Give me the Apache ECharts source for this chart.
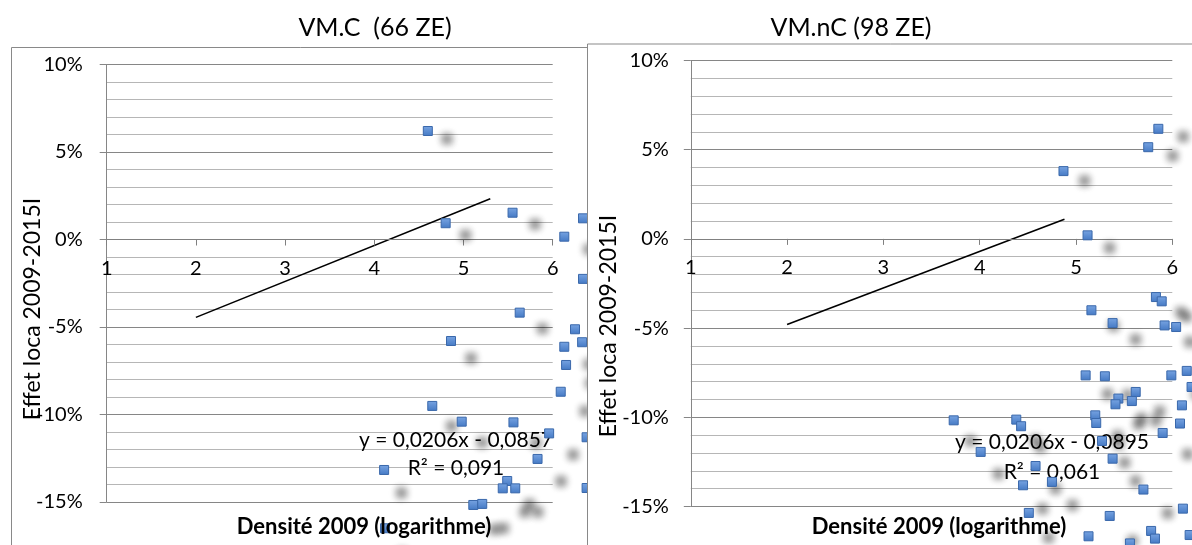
<!DOCTYPE html>
<html><head><meta charset="utf-8">
<script src="https://cdn.jsdelivr.net/npm/echarts@6/dist/echarts.min.js"></script>
<style>
html,body{margin:0;padding:0;background:#fff;width:1192px;height:545px;overflow:hidden;position:relative}
#left{position:absolute;left:0;top:0;width:588px;height:545px}
#right{position:absolute;left:587px;top:0;width:605px;height:545px;background:#fff}
</style></head><body>
<div id="left"></div><div id="right"></div>
<script>
// ---------- data ----------
const titles = ['VM.C  (66 ZE)', 'VM.nC (98 ZE)'];
const xAxisTitle = 'Densité 2009 (logarithme)';
const yAxisTitle = 'Effet loca 2009-2015I';
const xRange = [1, 6];
const yRange = [-15, 10];

const leftX = [4.60,4.80,5.55,6.13,6.34,6.34,5.63,4.86,6.25,6.13,6.33,6.15,6.09,4.65,4.98,5.56,5.96,6.38,5.83,4.11,5.49,5.44,5.58,6.38,5.11,5.21,4.12];
const leftY = [6.20,0.93,1.53,0.16,1.21,-2.25,-4.18,-5.80,-5.13,-6.13,-5.87,-7.17,-8.70,-9.51,-10.41,-10.45,-11.08,-11.30,-12.54,-13.17,-13.80,-14.22,-14.22,-14.20,-15.17,-15.11,-16.50];
const leftTrendX = [2, 5.30];
const leftTrendY = [-4.45, 2.33];
const leftEquation = ['y = 0,0206x - 0,0857', 'R² = 0,091'];

const rightX = [5.855,5.75,4.87,5.12,5.83,5.89,5.16,5.38,5.92,6.04,5.10,5.30,5.99,6.15,6.20,5.62,5.44,5.41,5.58,6.10,5.20,5.21,3.73,4.38,4.43,6.08,5.90,4.01,5.27,5.38,4.58,4.45,4.75,5.70,6.11,4.51,5.35,5.13,5.78,5.82,5.56,6.18];
const rightY = [6.17,5.14,3.80,0.20,-3.26,-3.50,-4.00,-4.72,-4.85,-4.94,-7.65,-7.70,-7.65,-7.40,-8.30,-8.58,-8.95,-9.27,-9.09,-9.33,-9.89,-10.32,-10.17,-10.13,-10.50,-10.35,-10.88,-11.94,-11.33,-12.32,-12.73,-13.81,-13.62,-14.05,-15.12,-15.36,-15.53,-16.67,-16.37,-16.80,-17.07,-16.60];
const rightTrendX = [2, 4.88];
const rightTrendY = [-4.80, 1.10];
const rightEquation = ['y = 0,0206x - 0,0895', 'R² = 0,061'];

// ---------- styling ----------
const FONT = 'Lato';
const GRID_MAJOR = '#868686';
const GRID_MINOR = '#b6b6b6';
const markerColor = {type:'linear',x:0,y:0,x2:0,y2:1,colorStops:[{offset:0,color:'#78a4e2'},{offset:1,color:'#4479c4'}]};

function zip(a,b){return a.map((v,i)=>[v,b[i]]);}

function buildOption(c){
  // x axis crosses the y axis at 0 (as in the original): shift it up from the grid bottom
  const zeroOffset = -c.gh * (0 - yRange[0]) / (yRange[1] - yRange[0]);
  return {
    animation:false,
    textStyle:{fontFamily:FONT},
    grid:{left:c.gl, top:c.gt, width:c.gw, height:c.gh, containLabel:false},
    xAxis:{type:'value', min:xRange[0], max:xRange[1], interval:1, position:'bottom', offset:zeroOffset,
      axisLine:{onZero:false, lineStyle:{color:'#808080', width:1}},
      axisTick:{show:true, length:6, lineStyle:{color:'#808080'}},
      axisLabel:{margin:19, fontSize:20, color:'#000', fontFamily:FONT},
      splitLine:{show:false}, z:3},
    yAxis:{type:'value', min:yRange[0], max:yRange[1], interval:5,
      axisLine:{show:true, onZero:false, lineStyle:{color:'#868686'}},
      axisTick:{show:true, length:7, lineStyle:{color:'#868686'}},
      axisLabel:{formatter:'{value}%', fontSize:20, color:'#000', fontFamily:FONT, margin:c.ylm},
      splitLine:{show:true, lineStyle:{color:GRID_MAJOR, width:1}},
      minorTick:{show:false, splitNumber:5},
      minorSplitLine:{show:true, lineStyle:{color:GRID_MINOR, width:1}}},
    graphic:[
      {type:'polyline', z:0, shape:{points:c.frame}, style:{stroke:'#898989', lineWidth:1, fill:null}},
      {type:'text', z:5, x:c.titleX, y:28, style:{text:c.title, font:'25px '+FONT, fill:'#000', textAlign:'center', textVerticalAlign:'middle'}},
      {type:'text', z:5, x:c.ytX, y:c.ytY, rotation:Math.PI/2, style:{text:yAxisTitle, font:'23px '+FONT, fill:'#000', textAlign:'center', textVerticalAlign:'middle'}},
      {type:'text', z:5, x:c.xtX, y:527, style:{text:xAxisTitle, font:'bold 22px '+FONT, fill:'#000', textAlign:'center', textVerticalAlign:'middle'}},
      {type:'text', z:1, x:c.eqX, y:c.eqY, style:{text:c.eq[0], font:'21px '+FONT, fill:'#000', textAlign:'center', textVerticalAlign:'middle'}},
      {type:'text', z:1, x:c.eqX, y:c.eqY2, style:{text:c.eq[1], font:'21px '+FONT, fill:'#000', textAlign:'center', textVerticalAlign:'middle'}}
    ],
    series:[
      {type:'line', id:'trend', data:zip(c.tx,c.ty), showSymbol:false, symbol:'none', clip:false, z:2,
        lineStyle:{color:'#000', width:1.6}},
      {type:'scatter', id:'pts', data:zip(c.px,c.py), symbol:'rect', symbolSize:9, clip:false, z:3,
        itemStyle:{color:markerColor, borderColor:'#3a68ab', borderWidth:1, opacity:1,
          shadowBlur:7, shadowColor:'rgba(0,0,0,0.45)', shadowOffsetX:20, shadowOffsetY:10}}
    ]
  };
}

function render(el, c){
  const chart = echarts.init(el, null, {renderer:'canvas'});
  chart.setOption(buildOption(c));
  const pts = zip(c.px,c.py);
  const data = pts.map(p=>{
    const q = chart.convertToPixel({seriesIndex:1}, p);
    return {value:p, itemStyle:{shadowOffsetX:0.04*q[0]+2, shadowOffsetY:0.044*q[1]+2.2}};
  });
  chart.setOption({series:[{id:'pts', data}]});
  return chart;
}

render(document.getElementById('left'), {
  gl:106.7, gt:64.5, gw:446, gh:437.5, ylm:24,
  frame:[[11.5,700],[11.5,47.5],[700,47.5]],
  title:titles[0], titleX:375, ytX:33, ytY:309, xtX:364, eqX:456, eqY:440, eqY2:468,
  eq:leftEquation, tx:leftTrendX, ty:leftTrendY, px:leftX, py:leftY
});
render(document.getElementById('right'), {
  gl:103.8, gt:60.5, gw:481.5, gh:446, ylm:22,
  frame:[[0.5,700],[0.5,44],[800,44]],
  title:titles[1], titleX:264, ytX:22, ytY:326, xtX:352, eqX:465, eqY:442, eqY2:472,
  eq:rightEquation, tx:rightTrendX, ty:rightTrendY, px:rightX, py:rightY
});
</script></body></html>
